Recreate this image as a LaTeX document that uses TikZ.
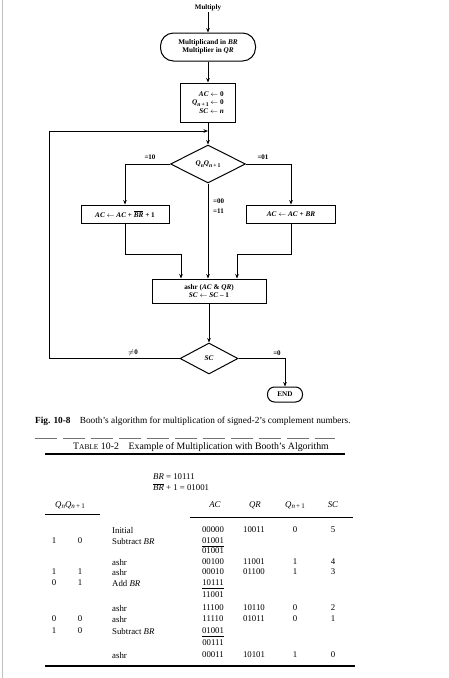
\documentclass[tikz,border=0pt]{standalone}
\usepackage{amsmath,amssymb}
\usepackage{fontspec}
\setmainfont{Liberation Serif}
\usepackage{tikz}
\usetikzlibrary{arrows.meta,positioning,shapes.geometric,calc}
\newcommand{\vv}[1]{\textit{#1}}
\newcommand{\sub}[1]{\raisebox{-0.45ex}{\scalebox{0.8}{#1}}}
\newcommand{\Qn}{\textit{Q}\sub{\textit{n}}}
\newcommand{\Qnn}{\textit{Q}\sub{\textit{n}\,+\,1}}
\newcommand{\lar}{\ $\leftarrow$\ }

\begin{document}
\begin{tikzpicture}[x=1pt, y=-1pt,
  box/.style={draw, line width=1pt, inner sep=1pt, font=\fontsize{7.2}{8.4}\selectfont\bfseries, align=center},
  term/.style={box, rounded corners=13pt, minimum width=95pt, minimum height=28pt},
  dec/.style={draw, diamond, line width=1pt, inner sep=0pt, font=\fontsize{7.2}{8.4}\selectfont\bfseries},
  arr/.style={-{Stealth[length=4.5pt,width=3.6pt]}, line width=1pt},
  lbl/.style={font=\fontsize{7}{8}\selectfont\bfseries, inner sep=1pt},
  tab/.style={font=\fontsize{8.8}{9.6}\selectfont, inner sep=0pt},
]
\useasboundingbox (0,0) rectangle (448,678);
\draw[black!25, line width=0.8pt] (2,0) -- (2,678);

% Flowchart
\node[lbl] (mul) at (208,8) {Multiply};
\node[term] (start) at (208,47) {Multiplicand in \vv{BR}\\Multiplier in \vv{QR}};
\node[box, minimum width=55pt, minimum height=39pt, align=right] (init) at (208,102.5)
  {\vv{AC}\lar 0\\\Qnn\lar 0\\\vv{SC}\lar\vv{n}};
\node[dec, minimum width=75pt, minimum height=38pt] (q) at (208,164) {\Qn\Qnn};
\node[box, minimum width=88pt, minimum height=18pt] (lbox) at (125,214)
  {\vv{AC}\lar\vv{AC} + $\overline{\mbox{\vv{BR}}}$ + 1};
\node[box, minimum width=89pt, minimum height=18pt] (rbox) at (291,214)
  {\vv{AC}\lar\vv{AC} + \vv{BR}};
\node[box, minimum width=114pt, minimum height=24pt] (ashr) at (209,291)
  {ashr (\vv{AC} \& \vv{QR})\\\vv{SC}\lar\vv{SC} -- 1};
\node[dec, minimum width=58pt, minimum height=31pt] (sc) at (209,358.5) {\vv{SC}};
\node[box, rounded corners=7pt, minimum width=35pt, minimum height=15pt] (endn) at (285,394.5) {END};

\coordinate (back) at (49,131);
\coordinate (ml) at (181,254);
\coordinate (mr) at (237,254);

\draw[arr] (mul) -- (start);
\draw[arr] (start) -- (init);
\draw[arr] (init) -- (q);
\draw[arr] (q.west) -| (lbox.north);
\draw[arr] (q.east) -| (rbox.north);
\draw[arr] (q.south) -- (q.south |- ashr.north);
\draw[arr] (lbox.south) |- (ml) -- (ml |- ashr.north);
\draw[arr] (rbox.south) |- (mr) -- (mr |- ashr.north);
\draw[arr] (ashr) -- (sc);
\draw[arr] (sc.west) -| (back) -- (back -| init.south);
\draw[arr] (sc.east) -| (endn.north);

\node[lbl] (l10) at (150,157) {=10};
\node[lbl] (l01) at (263,157) {=01};
\node[lbl, anchor=west] (l00) at (212,201) {=00};
\node[lbl, anchor=west] (l11) at (212,211) {=11};
\node[lbl] (lne) at (133,353) {$\neq$0};
\node[lbl] (leq) at (277,353) {=0};

% Caption and table title
\node[anchor=west, inner sep=0pt, font=\fontsize{9.3}{10}\selectfont] (cap) at (35,421)
  {\textbf{Fig. 10-8}\quad Booth's algorithm for multiplication of signed-2's complement numbers.};
\draw[black!55, dashed, dash pattern=on 22pt off 6pt, line width=0.6pt] (35,438) -- (335,438);
\node[anchor=west, inner sep=0pt, font=\fontsize{9.8}{10}\selectfont] (title) at (73,447)
  {T{\fontsize{7.4}{8}\selectfont ABLE} 10-2\quad Example of Multiplication with Booth's Algorithm};
\draw[line width=1.1pt] (45,454) -- (345,454);

\node[tab, anchor=west] (br) at (153,477) {\vv{BR} = 10111};
\node[tab, anchor=west] (brc) at (153,487) {$\overline{\mbox{\vv{BR}}}$ + 1 = 01001};

% Table head
\node[tab] (hq) at (70,505) {\Qn\Qnn};
\node[tab] (hac) at (215,505) {\vv{AC}};
\node[tab] (hqr) at (255,505) {\vv{QR}};
\node[tab] (hqn) at (295,505) {\Qnn};
\node[tab] (hsc) at (333,505) {\vv{SC}};
\draw[line width=0.9pt] (45,514) -- (100,514);
\draw[line width=0.9pt] (190,517) -- (353,517);

% Table rows
\foreach \y/\qa/\qb/\op/\ac/\qr/\qn/\sc in {
  530/{}/{}/Initial/00000/10011/0/5,
  541/1/0/Subtract \vv{BR}/01001/{}/{}/{},
  551/{}/{}/{}/01001/{}/{}/{},
  562/{}/{}/ashr/00100/11001/1/4,
  572/1/1/ashr/00010/01100/1/3,
  583/0/1/Add \vv{BR}/10111/{}/{}/{},
  595/{}/{}/{}/11001/{}/{}/{},
  608/{}/{}/ashr/11100/10110/0/2,
  619/0/0/ashr/11110/01011/0/1,
  631/1/0/Subtract \vv{BR}/01001/{}/{}/{},
  643/{}/{}/{}/00111/{}/{}/{},
  655/{}/{}/ashr/00011/10101/1/0}{
  \node[tab] (qa\y) at (54,\y) {\qa};
  \node[tab] (qb\y) at (80,\y) {\qb};
  \node[tab, anchor=west] (op\y) at (112,\y) {\op};
  \node[tab] (ac\y) at (213,\y) {\ac};
  \node[tab] (qr\y) at (254,\y) {\qr};
  \node[tab] (qn\y) at (295,\y) {\qn};
  \node[tab] (sc\y) at (333,\y) {\sc};
}
\foreach \y in {541,583,631}
  \draw[line width=0.6pt] (202,\y+5.5) -- (224,\y+5.5);
\draw[line width=1.1pt] (45,666) -- (355,666);
\end{tikzpicture}
\end{document}
